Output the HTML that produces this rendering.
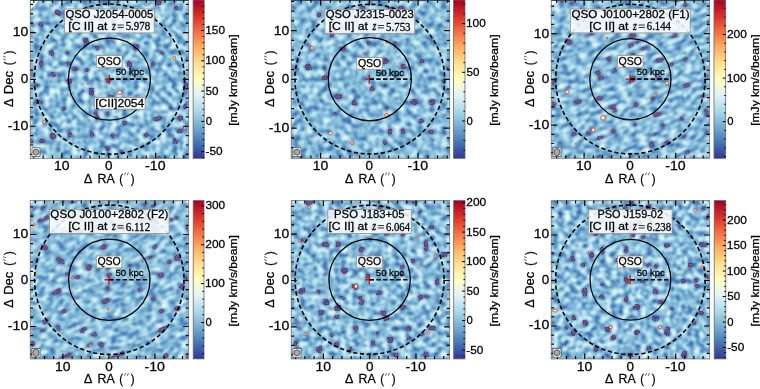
<!DOCTYPE html><html><head><meta charset="utf-8"><style>html,body{margin:0;padding:0;background:#fff;}svg{display:block;}text{font-family:"Liberation Sans",sans-serif;fill:#000;stroke:#000;stroke-width:0.28px;}.sr{font-family:"Liberation Serif",serif;}.si{font-family:"Liberation Serif",serif;font-style:italic;}</style></head><body>
<svg width="760" height="389" viewBox="0 0 760 389" style="will-change:transform">
<defs>
<linearGradient id="cmap" x1="0" y1="1" x2="0" y2="0">
<stop offset="0" stop-color="#313695"/>
<stop offset="0.1" stop-color="#4575b4"/>
<stop offset="0.2" stop-color="#74add1"/>
<stop offset="0.3" stop-color="#abd9e9"/>
<stop offset="0.4" stop-color="#e0f3f8"/>
<stop offset="0.5" stop-color="#ffffbf"/>
<stop offset="0.6" stop-color="#fee090"/>
<stop offset="0.7" stop-color="#fdae61"/>
<stop offset="0.8" stop-color="#f46d43"/>
<stop offset="0.9" stop-color="#d73027"/>
<stop offset="1" stop-color="#a50026"/>
</linearGradient>
<filter id="nz0" x="0" y="0" width="1" height="1" color-interpolation-filters="sRGB">
<feTurbulence type="fractalNoise" baseFrequency="0.18 0.18" numOctaves="2" seed="3" result="t0"/><feGaussianBlur in="t0" stdDeviation="0.8" result="t"/>
<feColorMatrix in="t" type="matrix" values="1 0 0 0 0 1 0 0 0 0 1 0 0 0 0 0 0 0 0 1" result="g"/>
<feComponentTransfer in="g" result="col"><feFuncR type="table" tableValues="0.192 0.192 0.192 0.192 0.192 0.192 0.192 0.192 0.195 0.211 0.226 0.241 0.256 0.271 0.306 0.342 0.377 0.412 0.447 0.487 0.529 0.570 0.611 0.653 0.693 0.733 0.773 0.812 0.852 0.886 0.909 0.933 0.956 0.979 1.000 0.999 0.998 0.998 0.997 0.996 0.995"/><feFuncG type="table" tableValues="0.212 0.212 0.212 0.212 0.212 0.212 0.212 0.212 0.223 0.270 0.317 0.365 0.412 0.459 0.501 0.543 0.585 0.627 0.669 0.704 0.737 0.770 0.803 0.836 0.862 0.881 0.901 0.921 0.940 0.956 0.965 0.974 0.983 0.992 0.997 0.974 0.951 0.927 0.904 0.880 0.844"/><feFuncB type="table" tableValues="0.584 0.584 0.584 0.584 0.584 0.584 0.584 0.584 0.589 0.613 0.636 0.659 0.683 0.706 0.728 0.750 0.772 0.793 0.815 0.834 0.852 0.870 0.888 0.906 0.920 0.932 0.943 0.954 0.966 0.958 0.916 0.873 0.830 0.787 0.745 0.710 0.674 0.639 0.604 0.569 0.533"/></feComponentTransfer>
<feColorMatrix in="t" type="matrix" values="0 0 0 0 0 0 0 0 0 0 0 0 0 0 0 1 0 0 0 0" result="a"/>
<feComponentTransfer in="a" result="mn"><feFuncA type="discrete" tableValues="1 1 1 1 1 1 1 1 1 1 1 1 1 1 1 1 1 1 1 1 1 1 1 1 1 1 1 1 1 1 1 1 1 1 1 1 1 1 1 1 1 1 1 1 1 1 1 1 1 1 1 1 1 1 1 1 1 1 1 1 1 1 1 1 1 1 1 1 1 1 1 1 1 1 1 1 1 1 1 1 1 0 0 0 0 0 0 0 0 0 0 0 0 0 0 0 0 0 0 0 0 0 0 0 0 0 0 0 0 0 0 0 0 0 0 0 0 0 0 0 0 0 0 0 0 0 0 0 0 0 0 0 0 0 0 0 0 0 0 0 0 0 0 0 0 0 0 0 0 0 0 0 0 0 0 0 0 0 0 0 0 0 0 0 0 0 0 0 0 0 0 0 0 0 0 0 0 0 0 0 0 0 0 0 0 0 0 0 0 0 0 0 0 0 0 0 0 0 0 0 0 0 0 0 0 0 0 0 0 0 0 0 0 0 0 0 0 0 0 0 0 0 0 0 0 0 0 0 0 0 0 0 0 0 0 0 0 0 0 0 0 0 0 0 0 0 0 0 0 0 0 0 0 0 0"/></feComponentTransfer>
<feGaussianBlur in="mn" stdDeviation="0.9" result="bn"/><feComponentTransfer in="bn" result="dn"><feFuncA type="discrete" tableValues="0 0 1 1 1 1 1 1 1 1 1 1 1 1 1 1 1 1 1 1"/></feComponentTransfer>
<feComposite in="dn" in2="mn" operator="out" result="rn0"/>
<feTurbulence type="fractalNoise" baseFrequency="0.6" numOctaves="1" seed="103" result="hf"/><feColorMatrix in="hf" type="matrix" values="0 0 0 0 0 0 0 0 0 0 0 0 0 0 0 1 0 0 0 0" result="hfa"/><feComponentTransfer in="hfa" result="dots"><feFuncA type="discrete" tableValues="0 0 0 0 1 1 1 1 1 1"/></feComponentTransfer>
<feComposite in="rn0" in2="dots" operator="in" result="rn"/>
<feFlood flood-color="#9a1c3a" flood-opacity="0.8"/><feComposite in2="rn" operator="in" result="rnc"/>
<feMerge><feMergeNode in="col"/><feMergeNode in="rnc"/></feMerge>
</filter>
<filter id="nz1" x="0" y="0" width="1" height="1" color-interpolation-filters="sRGB">
<feTurbulence type="fractalNoise" baseFrequency="0.17 0.17" numOctaves="2" seed="7" result="t0"/><feGaussianBlur in="t0" stdDeviation="0.8" result="t"/>
<feColorMatrix in="t" type="matrix" values="1 0 0 0 0 1 0 0 0 0 1 0 0 0 0 0 0 0 0 1" result="g"/>
<feComponentTransfer in="g" result="col"><feFuncR type="table" tableValues="0.192 0.192 0.192 0.192 0.192 0.192 0.192 0.197 0.211 0.224 0.238 0.252 0.266 0.291 0.324 0.356 0.388 0.420 0.452 0.490 0.528 0.565 0.603 0.641 0.679 0.715 0.751 0.787 0.823 0.860 0.889 0.910 0.931 0.953 0.974 0.995 0.999 0.999 0.998 0.997 0.997"/><feFuncG type="table" tableValues="0.212 0.212 0.212 0.212 0.212 0.212 0.212 0.227 0.270 0.314 0.357 0.400 0.443 0.483 0.522 0.560 0.598 0.637 0.675 0.706 0.736 0.766 0.797 0.827 0.855 0.873 0.890 0.908 0.926 0.944 0.957 0.965 0.974 0.982 0.990 0.998 0.983 0.962 0.941 0.919 0.898"/><feFuncB type="table" tableValues="0.584 0.584 0.584 0.584 0.584 0.584 0.584 0.591 0.613 0.634 0.656 0.677 0.698 0.719 0.739 0.759 0.779 0.798 0.818 0.835 0.852 0.868 0.885 0.901 0.916 0.926 0.937 0.947 0.957 0.968 0.954 0.914 0.875 0.836 0.797 0.758 0.724 0.692 0.659 0.627 0.595"/></feComponentTransfer>
<feColorMatrix in="t" type="matrix" values="0 0 0 0 0 0 0 0 0 0 0 0 0 0 0 1 0 0 0 0" result="a"/>
<feComponentTransfer in="a" result="mn"><feFuncA type="discrete" tableValues="1 1 1 1 1 1 1 1 1 1 1 1 1 1 1 1 1 1 1 1 1 1 1 1 1 1 1 1 1 1 1 1 1 1 1 1 1 1 1 1 1 1 1 1 1 1 1 1 1 1 1 1 1 1 1 1 1 1 1 1 1 1 1 1 1 1 1 1 1 1 1 1 1 1 1 1 1 0 0 0 0 0 0 0 0 0 0 0 0 0 0 0 0 0 0 0 0 0 0 0 0 0 0 0 0 0 0 0 0 0 0 0 0 0 0 0 0 0 0 0 0 0 0 0 0 0 0 0 0 0 0 0 0 0 0 0 0 0 0 0 0 0 0 0 0 0 0 0 0 0 0 0 0 0 0 0 0 0 0 0 0 0 0 0 0 0 0 0 0 0 0 0 0 0 0 0 0 0 0 0 0 0 0 0 0 0 0 0 0 0 0 0 0 0 0 0 0 0 0 0 0 0 0 0 0 0 0 0 0 0 0 0 0 0 0 0 0 0 0 0 0 0 0 0 0 0 0 0 0 0 0 0 0 0 0 0 0 0 0 0 0 0 0 0 0 0 0 0 0 0 0 0 0 0 0"/></feComponentTransfer>
<feGaussianBlur in="mn" stdDeviation="0.9" result="bn"/><feComponentTransfer in="bn" result="dn"><feFuncA type="discrete" tableValues="0 0 1 1 1 1 1 1 1 1 1 1 1 1 1 1 1 1 1 1"/></feComponentTransfer>
<feComposite in="dn" in2="mn" operator="out" result="rn0"/>
<feTurbulence type="fractalNoise" baseFrequency="0.6" numOctaves="1" seed="107" result="hf"/><feColorMatrix in="hf" type="matrix" values="0 0 0 0 0 0 0 0 0 0 0 0 0 0 0 1 0 0 0 0" result="hfa"/><feComponentTransfer in="hfa" result="dots"><feFuncA type="discrete" tableValues="0 0 0 0 1 1 1 1 1 1"/></feComponentTransfer>
<feComposite in="rn0" in2="dots" operator="in" result="rn"/>
<feFlood flood-color="#9a1c3a" flood-opacity="0.8"/><feComposite in2="rn" operator="in" result="rnc"/>
<feMerge><feMergeNode in="col"/><feMergeNode in="rnc"/></feMerge>
</filter>
<filter id="nz2" x="0" y="0" width="1" height="1" color-interpolation-filters="sRGB">
<feTurbulence type="fractalNoise" baseFrequency="0.13 0.24" numOctaves="2" seed="11" result="t0"/><feGaussianBlur in="t0" stdDeviation="0.8" result="t"/>
<feColorMatrix in="t" type="matrix" values="1 0 0 0 0 1 0 0 0 0 1 0 0 0 0 0 0 0 0 1" result="g"/>
<feComponentTransfer in="g" result="col"><feFuncR type="table" tableValues="0.192 0.192 0.192 0.192 0.192 0.192 0.192 0.192 0.203 0.218 0.232 0.246 0.261 0.281 0.315 0.349 0.383 0.416 0.450 0.489 0.529 0.568 0.608 0.647 0.686 0.724 0.762 0.800 0.838 0.876 0.899 0.922 0.944 0.966 0.989 1.000 0.999 0.998 0.997 0.997 0.996"/><feFuncG type="table" tableValues="0.212 0.212 0.212 0.212 0.212 0.212 0.212 0.212 0.246 0.292 0.337 0.382 0.428 0.471 0.512 0.552 0.592 0.632 0.672 0.705 0.737 0.769 0.800 0.832 0.859 0.877 0.896 0.915 0.933 0.952 0.961 0.970 0.978 0.987 0.996 0.989 0.966 0.944 0.922 0.899 0.876"/><feFuncB type="table" tableValues="0.584 0.584 0.584 0.584 0.584 0.584 0.584 0.584 0.601 0.623 0.646 0.668 0.691 0.712 0.733 0.754 0.775 0.796 0.817 0.835 0.852 0.869 0.886 0.904 0.918 0.929 0.940 0.951 0.962 0.972 0.934 0.893 0.852 0.811 0.770 0.732 0.698 0.665 0.631 0.597 0.563"/></feComponentTransfer>
<feColorMatrix in="t" type="matrix" values="0 0 0 0 0 0 0 0 0 0 0 0 0 0 0 1 0 0 0 0" result="a"/>
<feComponentTransfer in="a" result="mn"><feFuncA type="discrete" tableValues="1 1 1 1 1 1 1 1 1 1 1 1 1 1 1 1 1 1 1 1 1 1 1 1 1 1 1 1 1 1 1 1 1 1 1 1 1 1 1 1 1 1 1 1 1 1 1 1 1 1 1 1 1 1 1 1 1 1 1 1 1 1 1 1 1 1 1 1 1 1 1 1 1 1 1 1 1 1 1 1 1 0 0 0 0 0 0 0 0 0 0 0 0 0 0 0 0 0 0 0 0 0 0 0 0 0 0 0 0 0 0 0 0 0 0 0 0 0 0 0 0 0 0 0 0 0 0 0 0 0 0 0 0 0 0 0 0 0 0 0 0 0 0 0 0 0 0 0 0 0 0 0 0 0 0 0 0 0 0 0 0 0 0 0 0 0 0 0 0 0 0 0 0 0 0 0 0 0 0 0 0 0 0 0 0 0 0 0 0 0 0 0 0 0 0 0 0 0 0 0 0 0 0 0 0 0 0 0 0 0 0 0 0 0 0 0 0 0 0 0 0 0 0 0 0 0 0 0 0 0 0 0 0 0 0 0 0 0 0 0 0 0 0 0 0 0 0 0 0 0 0 0 0 0 0"/></feComponentTransfer>
<feGaussianBlur in="mn" stdDeviation="0.9" result="bn"/><feComponentTransfer in="bn" result="dn"><feFuncA type="discrete" tableValues="0 0 1 1 1 1 1 1 1 1 1 1 1 1 1 1 1 1 1 1"/></feComponentTransfer>
<feComposite in="dn" in2="mn" operator="out" result="rn0"/>
<feTurbulence type="fractalNoise" baseFrequency="0.6" numOctaves="1" seed="111" result="hf"/><feColorMatrix in="hf" type="matrix" values="0 0 0 0 0 0 0 0 0 0 0 0 0 0 0 1 0 0 0 0" result="hfa"/><feComponentTransfer in="hfa" result="dots"><feFuncA type="discrete" tableValues="0 0 0 0 1 1 1 1 1 1"/></feComponentTransfer>
<feComposite in="rn0" in2="dots" operator="in" result="rn"/>
<feFlood flood-color="#9a1c3a" flood-opacity="0.8"/><feComposite in2="rn" operator="in" result="rnc"/>
<feMerge><feMergeNode in="col"/><feMergeNode in="rnc"/></feMerge>
</filter>
<filter id="nz3" x="0" y="0" width="1" height="1" color-interpolation-filters="sRGB">
<feTurbulence type="fractalNoise" baseFrequency="0.13 0.24" numOctaves="2" seed="19" result="t0"/><feGaussianBlur in="t0" stdDeviation="0.8" result="t"/>
<feColorMatrix in="t" type="matrix" values="1 0 0 0 0 1 0 0 0 0 1 0 0 0 0 0 0 0 0 1" result="g"/>
<feComponentTransfer in="g" result="col"><feFuncR type="table" tableValues="0.192 0.192 0.192 0.192 0.192 0.192 0.192 0.192 0.197 0.212 0.227 0.242 0.257 0.273 0.308 0.343 0.379 0.414 0.449 0.489 0.530 0.571 0.612 0.654 0.694 0.733 0.773 0.812 0.852 0.886 0.909 0.932 0.956 0.979 1.000 0.999 0.998 0.998 0.997 0.996 0.995"/><feFuncG type="table" tableValues="0.212 0.212 0.212 0.212 0.212 0.212 0.212 0.212 0.227 0.274 0.321 0.368 0.415 0.462 0.503 0.545 0.587 0.629 0.671 0.705 0.738 0.771 0.804 0.837 0.862 0.882 0.901 0.921 0.940 0.956 0.965 0.974 0.983 0.992 0.998 0.975 0.951 0.928 0.905 0.882 0.846"/><feFuncB type="table" tableValues="0.584 0.584 0.584 0.584 0.584 0.584 0.584 0.584 0.591 0.614 0.638 0.661 0.684 0.707 0.729 0.751 0.773 0.794 0.816 0.835 0.853 0.871 0.889 0.906 0.920 0.932 0.943 0.954 0.966 0.959 0.916 0.873 0.831 0.788 0.746 0.711 0.676 0.641 0.605 0.570 0.535"/></feComponentTransfer>
<feColorMatrix in="t" type="matrix" values="0 0 0 0 0 0 0 0 0 0 0 0 0 0 0 1 0 0 0 0" result="a"/>
<feComponentTransfer in="a" result="mn"><feFuncA type="discrete" tableValues="1 1 1 1 1 1 1 1 1 1 1 1 1 1 1 1 1 1 1 1 1 1 1 1 1 1 1 1 1 1 1 1 1 1 1 1 1 1 1 1 1 1 1 1 1 1 1 1 1 1 1 1 1 1 1 1 1 1 1 1 1 1 1 1 1 1 1 1 1 1 1 1 1 1 1 1 1 1 1 1 1 1 1 0 0 0 0 0 0 0 0 0 0 0 0 0 0 0 0 0 0 0 0 0 0 0 0 0 0 0 0 0 0 0 0 0 0 0 0 0 0 0 0 0 0 0 0 0 0 0 0 0 0 0 0 0 0 0 0 0 0 0 0 0 0 0 0 0 0 0 0 0 0 0 0 0 0 0 0 0 0 0 0 0 0 0 0 0 0 0 0 0 0 0 0 0 0 0 0 0 0 0 0 0 0 0 0 0 0 0 0 0 0 0 0 0 0 0 0 0 0 0 0 0 0 0 0 0 0 0 0 0 0 0 0 0 0 0 0 0 0 0 0 0 0 0 0 0 0 0 0 0 0 0 0 0 0 0 0 0 0 0 0 0 0 0 0 0 0 0 0 0 0 0 0"/></feComponentTransfer>
<feGaussianBlur in="mn" stdDeviation="0.9" result="bn"/><feComponentTransfer in="bn" result="dn"><feFuncA type="discrete" tableValues="0 0 1 1 1 1 1 1 1 1 1 1 1 1 1 1 1 1 1 1"/></feComponentTransfer>
<feComposite in="dn" in2="mn" operator="out" result="rn0"/>
<feTurbulence type="fractalNoise" baseFrequency="0.6" numOctaves="1" seed="119" result="hf"/><feColorMatrix in="hf" type="matrix" values="0 0 0 0 0 0 0 0 0 0 0 0 0 0 0 1 0 0 0 0" result="hfa"/><feComponentTransfer in="hfa" result="dots"><feFuncA type="discrete" tableValues="0 0 0 0 1 1 1 1 1 1"/></feComponentTransfer>
<feComposite in="rn0" in2="dots" operator="in" result="rn"/>
<feFlood flood-color="#9a1c3a" flood-opacity="0.8"/><feComposite in2="rn" operator="in" result="rnc"/>
<feMerge><feMergeNode in="col"/><feMergeNode in="rnc"/></feMerge>
</filter>
<filter id="nz4" x="0" y="0" width="1" height="1" color-interpolation-filters="sRGB">
<feTurbulence type="fractalNoise" baseFrequency="0.17 0.19" numOctaves="2" seed="23" result="t0"/><feGaussianBlur in="t0" stdDeviation="0.8" result="t"/>
<feColorMatrix in="t" type="matrix" values="1 0 0 0 0 1 0 0 0 0 1 0 0 0 0 0 0 0 0 1" result="g"/>
<feComponentTransfer in="g" result="col"><feFuncR type="table" tableValues="0.192 0.192 0.192 0.192 0.192 0.192 0.192 0.192 0.202 0.217 0.231 0.246 0.260 0.280 0.313 0.347 0.381 0.415 0.449 0.487 0.527 0.566 0.606 0.646 0.685 0.723 0.761 0.799 0.837 0.875 0.899 0.921 0.943 0.966 0.988 1.000 0.999 0.998 0.997 0.997 0.996"/><feFuncG type="table" tableValues="0.212 0.212 0.212 0.212 0.212 0.212 0.212 0.212 0.244 0.289 0.335 0.380 0.425 0.469 0.509 0.550 0.590 0.630 0.670 0.704 0.735 0.767 0.799 0.831 0.858 0.877 0.895 0.914 0.933 0.951 0.961 0.970 0.978 0.987 0.995 0.989 0.967 0.945 0.922 0.900 0.877"/><feFuncB type="table" tableValues="0.584 0.584 0.584 0.584 0.584 0.584 0.584 0.584 0.600 0.622 0.645 0.667 0.689 0.711 0.732 0.753 0.774 0.795 0.816 0.834 0.851 0.868 0.886 0.903 0.918 0.929 0.940 0.950 0.961 0.972 0.935 0.894 0.853 0.812 0.771 0.733 0.699 0.666 0.632 0.598 0.564"/></feComponentTransfer>
<feColorMatrix in="t" type="matrix" values="0 0 0 0 0 0 0 0 0 0 0 0 0 0 0 1 0 0 0 0" result="a"/>
<feComponentTransfer in="a" result="mn"><feFuncA type="discrete" tableValues="1 1 1 1 1 1 1 1 1 1 1 1 1 1 1 1 1 1 1 1 1 1 1 1 1 1 1 1 1 1 1 1 1 1 1 1 1 1 1 1 1 1 1 1 1 1 1 1 1 1 1 1 1 1 1 1 1 1 1 1 1 1 1 1 1 1 1 1 1 1 1 1 1 1 1 1 1 1 1 1 0 0 0 0 0 0 0 0 0 0 0 0 0 0 0 0 0 0 0 0 0 0 0 0 0 0 0 0 0 0 0 0 0 0 0 0 0 0 0 0 0 0 0 0 0 0 0 0 0 0 0 0 0 0 0 0 0 0 0 0 0 0 0 0 0 0 0 0 0 0 0 0 0 0 0 0 0 0 0 0 0 0 0 0 0 0 0 0 0 0 0 0 0 0 0 0 0 0 0 0 0 0 0 0 0 0 0 0 0 0 0 0 0 0 0 0 0 0 0 0 0 0 0 0 0 0 0 0 0 0 0 0 0 0 0 0 0 0 0 0 0 0 0 0 0 0 0 0 0 0 0 0 0 0 0 0 0 0 0 0 0 0 0 0 0 0 0 0 0 0 0 0 0 0 0"/></feComponentTransfer>
<feGaussianBlur in="mn" stdDeviation="0.9" result="bn"/><feComponentTransfer in="bn" result="dn"><feFuncA type="discrete" tableValues="0 0 1 1 1 1 1 1 1 1 1 1 1 1 1 1 1 1 1 1"/></feComponentTransfer>
<feComposite in="dn" in2="mn" operator="out" result="rn0"/>
<feTurbulence type="fractalNoise" baseFrequency="0.6" numOctaves="1" seed="123" result="hf"/><feColorMatrix in="hf" type="matrix" values="0 0 0 0 0 0 0 0 0 0 0 0 0 0 0 1 0 0 0 0" result="hfa"/><feComponentTransfer in="hfa" result="dots"><feFuncA type="discrete" tableValues="0 0 0 0 1 1 1 1 1 1"/></feComponentTransfer>
<feComposite in="rn0" in2="dots" operator="in" result="rn"/>
<feFlood flood-color="#9a1c3a" flood-opacity="0.8"/><feComposite in2="rn" operator="in" result="rnc"/>
<feMerge><feMergeNode in="col"/><feMergeNode in="rnc"/></feMerge>
</filter>
<filter id="nz5" x="0" y="0" width="1" height="1" color-interpolation-filters="sRGB">
<feTurbulence type="fractalNoise" baseFrequency="0.17 0.19" numOctaves="2" seed="29" result="t0"/><feGaussianBlur in="t0" stdDeviation="0.8" result="t"/>
<feColorMatrix in="t" type="matrix" values="1 0 0 0 0 1 0 0 0 0 1 0 0 0 0 0 0 0 0 1" result="g"/>
<feComponentTransfer in="g" result="col"><feFuncR type="table" tableValues="0.192 0.192 0.192 0.192 0.192 0.192 0.192 0.192 0.192 0.203 0.219 0.235 0.251 0.267 0.298 0.335 0.372 0.409 0.446 0.488 0.531 0.574 0.618 0.661 0.703 0.744 0.786 0.828 0.869 0.897 0.922 0.946 0.971 0.995 0.999 0.999 0.998 0.997 0.996 0.995 0.995"/><feFuncG type="table" tableValues="0.212 0.212 0.212 0.212 0.212 0.212 0.212 0.212 0.212 0.248 0.297 0.347 0.396 0.446 0.491 0.535 0.579 0.623 0.667 0.704 0.739 0.774 0.808 0.843 0.867 0.887 0.908 0.928 0.949 0.960 0.970 0.979 0.989 0.998 0.980 0.956 0.931 0.907 0.883 0.846 0.807"/><feFuncB type="table" tableValues="0.584 0.584 0.584 0.584 0.584 0.584 0.584 0.584 0.584 0.602 0.626 0.651 0.675 0.700 0.723 0.746 0.769 0.791 0.814 0.834 0.853 0.872 0.891 0.910 0.923 0.935 0.947 0.959 0.970 0.938 0.893 0.848 0.803 0.758 0.719 0.683 0.646 0.609 0.572 0.535 0.498"/></feComponentTransfer>
<feColorMatrix in="t" type="matrix" values="0 0 0 0 0 0 0 0 0 0 0 0 0 0 0 1 0 0 0 0" result="a"/>
<feComponentTransfer in="a" result="mn"><feFuncA type="discrete" tableValues="1 1 1 1 1 1 1 1 1 1 1 1 1 1 1 1 1 1 1 1 1 1 1 1 1 1 1 1 1 1 1 1 1 1 1 1 1 1 1 1 1 1 1 1 1 1 1 1 1 1 1 1 1 1 1 1 1 1 1 1 1 1 1 1 1 1 1 1 1 1 1 1 1 1 1 1 1 1 1 1 1 1 0 0 0 0 0 0 0 0 0 0 0 0 0 0 0 0 0 0 0 0 0 0 0 0 0 0 0 0 0 0 0 0 0 0 0 0 0 0 0 0 0 0 0 0 0 0 0 0 0 0 0 0 0 0 0 0 0 0 0 0 0 0 0 0 0 0 0 0 0 0 0 0 0 0 0 0 0 0 0 0 0 0 0 0 0 0 0 0 0 0 0 0 0 0 0 0 0 0 0 0 0 0 0 0 0 0 0 0 0 0 0 0 0 0 0 0 0 0 0 0 0 0 0 0 0 0 0 0 0 0 0 0 0 0 0 0 0 0 0 0 0 0 0 0 0 0 0 0 0 0 0 0 0 0 0 0 0 0 0 0 0 0 0 0 0 0 0 0 0 0 0 0 0"/></feComponentTransfer>
<feGaussianBlur in="mn" stdDeviation="0.9" result="bn"/><feComponentTransfer in="bn" result="dn"><feFuncA type="discrete" tableValues="0 0 1 1 1 1 1 1 1 1 1 1 1 1 1 1 1 1 1 1"/></feComponentTransfer>
<feComposite in="dn" in2="mn" operator="out" result="rn0"/>
<feTurbulence type="fractalNoise" baseFrequency="0.6" numOctaves="1" seed="129" result="hf"/><feColorMatrix in="hf" type="matrix" values="0 0 0 0 0 0 0 0 0 0 0 0 0 0 0 1 0 0 0 0" result="hfa"/><feComponentTransfer in="hfa" result="dots"><feFuncA type="discrete" tableValues="0 0 0 0 1 1 1 1 1 1"/></feComponentTransfer>
<feComposite in="rn0" in2="dots" operator="in" result="rn"/>
<feFlood flood-color="#9a1c3a" flood-opacity="0.8"/><feComposite in2="rn" operator="in" result="rnc"/>
<feMerge><feMergeNode in="col"/><feMergeNode in="rnc"/></feMerge>
</filter>
</defs>
<g>
<rect x="30.3" y="0" width="158.3" height="158.3" filter="url(#nz0)" fill="#9cc"/>
<path d="M30.3 0L39.3 0L30.3 10Z" fill="#fff"/>
<path d="M30.3 158.3L43.3 158.3L30.3 145.3Z" fill="#fff"/>
<ellipse cx="119.6" cy="92.5" rx="2.2" ry="2" fill="#fdf3c4" stroke="#d0442c" stroke-width="0.9"/>
<ellipse cx="174.3" cy="58.1" rx="1.4" ry="1.6" fill="#fdf3c4" stroke="#d0442c" stroke-width="0.9"/>
<ellipse cx="44.2" cy="122" rx="1.5" ry="1.4" fill="#fdf3c4" stroke="#d0442c" stroke-width="0.9"/>
<ellipse cx="184.5" cy="128" rx="1.2" ry="1.2" fill="#fdf3c4" stroke="#d0442c" stroke-width="0.9"/>
<ellipse cx="56.4" cy="74.4" rx="0.8" ry="0.8" fill="#fdf3c4" stroke="#d0442c" stroke-width="0.9"/>
<ellipse cx="88" cy="84" rx="0.8" ry="0.8" fill="#fdf3c4" stroke="#d0442c" stroke-width="0.9"/>
<circle cx="109.4" cy="79.15" r="75.1" fill="none" stroke="#000" stroke-width="1.6" stroke-dasharray="4.2 2.6"/>
<circle cx="109.4" cy="79.15" r="41" fill="none" stroke="#000" stroke-width="1.25"/>
<path d="M104.85 79.15h9M109.25 74.65v9" stroke="#c41818" stroke-width="1.4"/>
<line x1="109.55" y1="79.15" x2="150.4" y2="79.15" stroke="#000" stroke-width="1.6" stroke-dasharray="4.4 2.3"/>
<text x="115.77" y="75.4" font-size="9.06" textLength="28.17" lengthAdjust="spacingAndGlyphs">50 kpc</text>
<rect x="96.4" y="55.4" width="25.6" height="11.9" fill="#fff" stroke="#999" stroke-width="0.9"/>
<text x="97.52" y="64.8" font-size="11.34" textLength="23.39" lengthAdjust="spacingAndGlyphs">QSO</text>
<rect x="94.6" y="97.55" width="50.6" height="11.6" fill="#fff" stroke="#999" stroke-width="0.9"/>
<text x="95.24" y="106.7" font-size="11.34" textLength="49.08" lengthAdjust="spacingAndGlyphs">[CII]2054</text>
<rect x="64.5" y="9" width="89.79" height="23.9" fill="#fff" fill-opacity="0.85" stroke="#999" stroke-width="0.9"/>
<text x="65.4" y="17.8" font-size="11.34" textLength="87.98" lengthAdjust="spacingAndGlyphs">QSO J2054-0005</text>
<text x="68.25" y="29.8" font-size="11.3" textLength="39.25" lengthAdjust="spacingAndGlyphs">[C II] at</text>
<text x="112.1" y="29.8" font-size="11.5" textLength="3.84" lengthAdjust="spacingAndGlyphs" class="si">z</text>
<path d="M117.6 25h6.2M117.6 27.4h6.2" stroke="#000" stroke-width="0.8"/>
<text x="125.65" y="30.1" font-size="11.6" textLength="24.49" lengthAdjust="spacingAndGlyphs" class="sr">5.978</text>
<rect x="30.3" y="0" width="158.3" height="158.3" fill="none" stroke="#888" stroke-width="1"/>
<path d="M30.3 0.5H188.6" stroke="#3c4c5c" stroke-width="1"/>
<path d="M183.71 158.3v-2.8M183.71 0v2.8M30.3 154.36h2.8M188.6 154.36h-2.8M174.34 158.3v-2.8M174.34 0v2.8M30.3 144.99h2.8M188.6 144.99h-2.8M164.97 158.3v-2.8M164.97 0v2.8M30.3 135.62h2.8M188.6 135.62h-2.8M155.6 158.3v-5.5M155.6 0v5.5M30.3 126.25h5.5M188.6 126.25h-5.5M146.23 158.3v-2.8M146.23 0v2.8M30.3 116.88h2.8M188.6 116.88h-2.8M136.86 158.3v-2.8M136.86 0v2.8M30.3 107.51h2.8M188.6 107.51h-2.8M127.49 158.3v-2.8M127.49 0v2.8M30.3 98.14h2.8M188.6 98.14h-2.8M118.12 158.3v-2.8M118.12 0v2.8M30.3 88.77h2.8M188.6 88.77h-2.8M108.75 158.3v-5.5M108.75 0v5.5M30.3 79.4h5.5M188.6 79.4h-5.5M99.38 158.3v-2.8M99.38 0v2.8M30.3 70.03h2.8M188.6 70.03h-2.8M90.01 158.3v-2.8M90.01 0v2.8M30.3 60.66h2.8M188.6 60.66h-2.8M80.64 158.3v-2.8M80.64 0v2.8M30.3 51.29h2.8M188.6 51.29h-2.8M71.27 158.3v-2.8M71.27 0v2.8M30.3 41.92h2.8M188.6 41.92h-2.8M61.9 158.3v-5.5M61.9 0v5.5M30.3 32.55h5.5M188.6 32.55h-5.5M52.53 158.3v-2.8M52.53 0v2.8M30.3 23.18h2.8M188.6 23.18h-2.8M43.16 158.3v-2.8M43.16 0v2.8M30.3 13.81h2.8M188.6 13.81h-2.8M33.79 158.3v-2.8M33.79 0v2.8M30.3 4.44h2.8M188.6 4.44h-2.8" stroke="#000" stroke-width="1.2"/>
<text x="53.9" y="170.1" font-size="13.46" textLength="15.55" lengthAdjust="spacingAndGlyphs">10</text>
<text x="12.75" y="36.45" font-size="13.46" textLength="15.55" lengthAdjust="spacingAndGlyphs">10</text>
<text x="105" y="170.1" font-size="13.46" textLength="7.51" lengthAdjust="spacingAndGlyphs">0</text>
<text x="20.75" y="83.3" font-size="13.46" textLength="7.51" lengthAdjust="spacingAndGlyphs">0</text>
<text x="145.14" y="170.1" font-size="13.46" textLength="20.45" lengthAdjust="spacingAndGlyphs">-10</text>
<text x="7.82" y="130.15" font-size="13.46" textLength="20.45" lengthAdjust="spacingAndGlyphs">-10</text>
<text x="84.08" y="182.8" font-size="12.8" textLength="8.32" lengthAdjust="spacingAndGlyphs">Δ</text>
<text x="97.56" y="182.8" font-size="12.8" textLength="17.14" lengthAdjust="spacingAndGlyphs">RA</text>
<text x="119.22" y="182.8" font-size="12.8" textLength="3.77" lengthAdjust="spacingAndGlyphs">(</text><text x="130.68" y="182.8" font-size="12.8" textLength="3.84" lengthAdjust="spacingAndGlyphs">)</text>
<path d="M124.55 175.2l1 -2.8M127.35 175.2l1 -2.8" stroke="#555" stroke-width="0.9"/>
<g transform="translate(13.4 79.4) rotate(-90)"><text x="-27.68" y="0" font-size="12.8" textLength="8.43" lengthAdjust="spacingAndGlyphs">Δ</text><text x="-14.84" y="0" font-size="12.8" textLength="23.15" lengthAdjust="spacingAndGlyphs">Dec</text><text x="14.24" y="0" font-size="12.8" textLength="3.64" lengthAdjust="spacingAndGlyphs">(</text><text x="25.09" y="0" font-size="12.8" textLength="3.71" lengthAdjust="spacingAndGlyphs">)</text><path d="M19.5 -7.6l1 -2.8M22.3 -7.6l1 -2.8" stroke="#555" stroke-width="0.9"/></g>
<rect x="193.1" y="0" width="11.1" height="158.3" fill="url(#cmap)" stroke="#666" stroke-width="0.8"/>
<path d="M204.2 157.76h-1.6M204.2 151.7h-3M204.2 145.64h-1.6M204.2 139.58h-1.6M204.2 133.52h-1.6M204.2 127.46h-1.6M204.2 121.4h-3M204.2 115.34h-1.6M204.2 109.28h-1.6M204.2 103.22h-1.6M204.2 97.16h-1.6M204.2 91.1h-3M204.2 85.04h-1.6M204.2 78.98h-1.6M204.2 72.92h-1.6M204.2 66.86h-1.6M204.2 60.8h-3M204.2 54.74h-1.6M204.2 48.68h-1.6M204.2 42.62h-1.6M204.2 36.56h-1.6M204.2 30.5h-3M204.2 24.44h-1.6M204.2 18.38h-1.6M204.2 12.32h-1.6M204.2 6.26h-1.6" stroke="#000" stroke-width="1"/>
<text x="205.57" y="155.3" font-size="11.24" textLength="17.07" lengthAdjust="spacingAndGlyphs">-50</text>
<text x="205.65" y="125" font-size="11.24" textLength="6.27" lengthAdjust="spacingAndGlyphs">0</text>
<text x="205.63" y="94.7" font-size="11.24" textLength="12.94" lengthAdjust="spacingAndGlyphs">50</text>
<text x="205.21" y="64.4" font-size="11.24" textLength="19.8" lengthAdjust="spacingAndGlyphs">100</text>
<text x="205.21" y="34.1" font-size="11.24" textLength="19.8" lengthAdjust="spacingAndGlyphs">150</text>
<g transform="translate(237.1 80.2) rotate(-90)"><text x="-45.65" y="0" font-size="11.34" textLength="91.33" lengthAdjust="spacingAndGlyphs">[mJy km/s/beam]</text></g>
<rect x="32" y="147.8" width="8" height="8.8" fill="#fff" stroke="#555" stroke-width="0.8"/>
<ellipse cx="36" cy="152.2" rx="3" ry="3" fill="#aaa" stroke="#444" stroke-width="0.8"/>
</g>
<g>
<rect x="291.3" y="0" width="158.3" height="158.3" filter="url(#nz1)" fill="#9cc"/>
<ellipse cx="312.1" cy="48" rx="1.8" ry="1.5" fill="#fdf3c4" stroke="#d0442c" stroke-width="0.9"/>
<ellipse cx="387.3" cy="41.9" rx="1.8" ry="1.4" fill="#fdf3c4" stroke="#d0442c" stroke-width="0.9"/>
<ellipse cx="386.5" cy="115" rx="1.9" ry="1.4" fill="#fdf3c4" stroke="#d0442c" stroke-width="0.9"/>
<ellipse cx="330.4" cy="133.3" rx="2" ry="1.5" fill="#fdf3c4" stroke="#d0442c" stroke-width="0.9"/>
<ellipse cx="352" cy="143" rx="1.8" ry="1.3" fill="#fdf3c4" stroke="#d0442c" stroke-width="0.9"/>
<ellipse cx="365" cy="53.7" rx="0.8" ry="0.8" fill="#fdf3c4" stroke="#d0442c" stroke-width="0.9"/>
<circle cx="369.8" cy="79.15" r="74.8" fill="none" stroke="#000" stroke-width="1.6" stroke-dasharray="4.2 2.6"/>
<circle cx="369.8" cy="79.15" r="41.6" fill="none" stroke="#000" stroke-width="1.25"/>
<path d="M364.9 79.15h9M369.3 74.65v9" stroke="#c41818" stroke-width="1.4"/>
<line x1="369.6" y1="79.15" x2="411.4" y2="79.15" stroke="#000" stroke-width="1.6" stroke-dasharray="4.4 2.3"/>
<text x="375.82" y="76.4" font-size="9.06" textLength="28.17" lengthAdjust="spacingAndGlyphs">50 kpc</text>
<rect x="356.8" y="57.4" width="25.6" height="11.9" fill="#fff" stroke="#999" stroke-width="0.9"/>
<text x="357.92" y="66.8" font-size="11.34" textLength="23.39" lengthAdjust="spacingAndGlyphs">QSO</text>
<rect x="324.88" y="9.5" width="89.84" height="23.9" fill="#fff" fill-opacity="0.85" stroke="#999" stroke-width="0.9"/>
<text x="325.77" y="18.3" font-size="11.34" textLength="88.1" lengthAdjust="spacingAndGlyphs">QSO J2315-0023</text>
<text x="328.65" y="30.3" font-size="11.3" textLength="39.25" lengthAdjust="spacingAndGlyphs">[C II] at</text>
<text x="372.5" y="30.3" font-size="11.5" textLength="3.84" lengthAdjust="spacingAndGlyphs" class="si">z</text>
<path d="M378 25.5h6.2M378 27.9h6.2" stroke="#000" stroke-width="0.8"/>
<text x="386.05" y="30.6" font-size="11.6" textLength="24.49" lengthAdjust="spacingAndGlyphs" class="sr">5.753</text>
<rect x="291.3" y="0" width="158.3" height="158.3" fill="none" stroke="#888" stroke-width="1"/>
<path d="M291.3 0.5H449.6" stroke="#3c4c5c" stroke-width="1"/>
<path d="M447.27 158.3v-2.8M447.27 0v2.8M437.53 158.3v-2.8M437.53 0v2.8M291.3 147.58h2.8M449.6 147.58h-2.8M427.79 158.3v-2.8M427.79 0v2.8M291.3 137.84h2.8M449.6 137.84h-2.8M418.05 158.3v-5.5M418.05 0v5.5M291.3 128.1h5.5M449.6 128.1h-5.5M408.31 158.3v-2.8M408.31 0v2.8M291.3 118.36h2.8M449.6 118.36h-2.8M398.57 158.3v-2.8M398.57 0v2.8M291.3 108.62h2.8M449.6 108.62h-2.8M388.83 158.3v-2.8M388.83 0v2.8M291.3 98.88h2.8M449.6 98.88h-2.8M379.09 158.3v-2.8M379.09 0v2.8M291.3 89.14h2.8M449.6 89.14h-2.8M369.35 158.3v-5.5M369.35 0v5.5M291.3 79.4h5.5M449.6 79.4h-5.5M359.61 158.3v-2.8M359.61 0v2.8M291.3 69.66h2.8M449.6 69.66h-2.8M349.87 158.3v-2.8M349.87 0v2.8M291.3 59.92h2.8M449.6 59.92h-2.8M340.13 158.3v-2.8M340.13 0v2.8M291.3 50.18h2.8M449.6 50.18h-2.8M330.39 158.3v-2.8M330.39 0v2.8M291.3 40.44h2.8M449.6 40.44h-2.8M320.65 158.3v-5.5M320.65 0v5.5M291.3 30.7h5.5M449.6 30.7h-5.5M310.91 158.3v-2.8M310.91 0v2.8M291.3 20.96h2.8M449.6 20.96h-2.8M301.17 158.3v-2.8M301.17 0v2.8M291.3 11.22h2.8M449.6 11.22h-2.8M291.3 1.48h2.8M449.6 1.48h-2.8" stroke="#000" stroke-width="1.2"/>
<text x="312.65" y="170.1" font-size="13.46" textLength="15.55" lengthAdjust="spacingAndGlyphs">10</text>
<text x="273.75" y="34.6" font-size="13.46" textLength="15.55" lengthAdjust="spacingAndGlyphs">10</text>
<text x="365.6" y="170.1" font-size="13.46" textLength="7.51" lengthAdjust="spacingAndGlyphs">0</text>
<text x="281.75" y="83.3" font-size="13.46" textLength="7.51" lengthAdjust="spacingAndGlyphs">0</text>
<text x="407.59" y="170.1" font-size="13.46" textLength="20.45" lengthAdjust="spacingAndGlyphs">-10</text>
<text x="268.82" y="132" font-size="13.46" textLength="20.45" lengthAdjust="spacingAndGlyphs">-10</text>
<text x="345.08" y="182.8" font-size="12.8" textLength="8.32" lengthAdjust="spacingAndGlyphs">Δ</text>
<text x="358.56" y="182.8" font-size="12.8" textLength="17.14" lengthAdjust="spacingAndGlyphs">RA</text>
<text x="380.22" y="182.8" font-size="12.8" textLength="3.77" lengthAdjust="spacingAndGlyphs">(</text><text x="391.68" y="182.8" font-size="12.8" textLength="3.84" lengthAdjust="spacingAndGlyphs">)</text>
<path d="M385.55 175.2l1 -2.8M388.35 175.2l1 -2.8" stroke="#555" stroke-width="0.9"/>
<g transform="translate(274.4 79.4) rotate(-90)"><text x="-27.68" y="0" font-size="12.8" textLength="8.43" lengthAdjust="spacingAndGlyphs">Δ</text><text x="-14.84" y="0" font-size="12.8" textLength="23.15" lengthAdjust="spacingAndGlyphs">Dec</text><text x="14.24" y="0" font-size="12.8" textLength="3.64" lengthAdjust="spacingAndGlyphs">(</text><text x="25.09" y="0" font-size="12.8" textLength="3.71" lengthAdjust="spacingAndGlyphs">)</text><path d="M19.5 -7.6l1 -2.8M22.3 -7.6l1 -2.8" stroke="#555" stroke-width="0.9"/></g>
<rect x="453.6" y="0" width="11.4" height="158.3" fill="url(#cmap)" stroke="#666" stroke-width="0.8"/>
<path d="M465 150.22h-1.6M465 140.48h-1.6M465 130.74h-1.6M465 121h-3M465 111.26h-1.6M465 101.52h-1.6M465 91.78h-1.6M465 82.04h-1.6M465 72.3h-3M465 62.56h-1.6M465 52.82h-1.6M465 43.08h-1.6M465 33.34h-1.6M465 23.6h-3M465 13.86h-1.6M465 4.12h-1.6" stroke="#000" stroke-width="1"/>
<text x="466.45" y="124.6" font-size="11.24" textLength="6.27" lengthAdjust="spacingAndGlyphs">0</text>
<text x="466.43" y="75.9" font-size="11.24" textLength="12.94" lengthAdjust="spacingAndGlyphs">50</text>
<text x="466.01" y="27.2" font-size="11.24" textLength="19.8" lengthAdjust="spacingAndGlyphs">100</text>
<g transform="translate(497.9 80.2) rotate(-90)"><text x="-45.65" y="0" font-size="11.34" textLength="91.33" lengthAdjust="spacingAndGlyphs">[mJy km/s/beam]</text></g>
<rect x="293" y="147.8" width="8" height="8.8" fill="#fff" stroke="#555" stroke-width="0.8"/>
<ellipse cx="297" cy="152.2" rx="3" ry="3" fill="#aaa" stroke="#444" stroke-width="0.8"/>
</g>
<g>
<clipPath id="cp2"><rect x="551.3" y="0" width="158.3" height="158.3"/></clipPath>
<g clip-path="url(#cp2)"><rect x="510.4" y="-40.85" width="240" height="240" transform="rotate(-22 630.4 79.15)" filter="url(#nz2)" fill="#9cc"/></g>
<path d="M551.3 0L557.3 0L551.3 7Z" fill="#fff"/>
<ellipse cx="567.3" cy="91.9" rx="1.9" ry="1.9" fill="#fdf3c4" stroke="#d0442c" stroke-width="0.9"/>
<ellipse cx="603" cy="117.9" rx="2.3" ry="2.3" fill="#fdf3c4" stroke="#d0442c" stroke-width="0.9"/>
<ellipse cx="593.3" cy="130" rx="1.9" ry="2" fill="#fdf3c4" stroke="#d0442c" stroke-width="0.9"/>
<ellipse cx="666.9" cy="83.3" rx="1.6" ry="1.8" fill="#fdf3c4" stroke="#d0442c" stroke-width="0.9"/>
<ellipse cx="656.7" cy="93.5" rx="1" ry="1.1" fill="#fdf3c4" stroke="#d0442c" stroke-width="0.9"/>
<ellipse cx="576.2" cy="143.9" rx="0.9" ry="0.9" fill="#fdf3c4" stroke="#d0442c" stroke-width="0.9"/>
<ellipse cx="607" cy="37.8" rx="0.9" ry="0.9" fill="#fdf3c4" stroke="#d0442c" stroke-width="0.9"/>
<circle cx="630.4" cy="79.15" r="74.75" fill="none" stroke="#000" stroke-width="1.6" stroke-dasharray="4.2 2.6"/>
<circle cx="630.4" cy="79.15" r="40.6" fill="none" stroke="#000" stroke-width="1.25"/>
<path d="M625.8 79.15h9M630.2 74.65v9" stroke="#c41818" stroke-width="1.4"/>
<line x1="630.5" y1="79.15" x2="671" y2="79.15" stroke="#000" stroke-width="1.6" stroke-dasharray="4.4 2.3"/>
<text x="636.72" y="75.4" font-size="9.06" textLength="28.17" lengthAdjust="spacingAndGlyphs">50 kpc</text>
<rect x="617.4" y="55.4" width="25.6" height="11.9" fill="#fff" stroke="#999" stroke-width="0.9"/>
<text x="618.52" y="64.8" font-size="11.34" textLength="23.39" lengthAdjust="spacingAndGlyphs">QSO</text>
<rect x="570.58" y="9" width="119.64" height="23.9" fill="#fff" fill-opacity="0.85" stroke="#999" stroke-width="0.9"/>
<text x="571.45" y="17.8" font-size="11.34" textLength="118.12" lengthAdjust="spacingAndGlyphs">QSO J0100+2802 (F1)</text>
<text x="589.25" y="29.8" font-size="11.3" textLength="39.25" lengthAdjust="spacingAndGlyphs">[C II] at</text>
<text x="633.1" y="29.8" font-size="11.5" textLength="3.84" lengthAdjust="spacingAndGlyphs" class="si">z</text>
<path d="M638.6 25h6.2M638.6 27.4h6.2" stroke="#000" stroke-width="0.8"/>
<text x="646.82" y="30.1" font-size="11.6" textLength="24.04" lengthAdjust="spacingAndGlyphs" class="sr">6.144</text>
<rect x="551.3" y="0" width="158.3" height="158.3" fill="none" stroke="#888" stroke-width="1"/>
<path d="M551.3 0.5H709.6" stroke="#3c4c5c" stroke-width="1"/>
<path d="M703.18 158.3v-2.8M703.18 0v2.8M551.3 152.68h2.8M709.6 152.68h-2.8M694.02 158.3v-2.8M694.02 0v2.8M551.3 143.52h2.8M709.6 143.52h-2.8M684.86 158.3v-2.8M684.86 0v2.8M551.3 134.36h2.8M709.6 134.36h-2.8M675.7 158.3v-5.5M675.7 0v5.5M551.3 125.2h5.5M709.6 125.2h-5.5M666.54 158.3v-2.8M666.54 0v2.8M551.3 116.04h2.8M709.6 116.04h-2.8M657.38 158.3v-2.8M657.38 0v2.8M551.3 106.88h2.8M709.6 106.88h-2.8M648.22 158.3v-2.8M648.22 0v2.8M551.3 97.72h2.8M709.6 97.72h-2.8M639.06 158.3v-2.8M639.06 0v2.8M551.3 88.56h2.8M709.6 88.56h-2.8M629.9 158.3v-5.5M629.9 0v5.5M551.3 79.4h5.5M709.6 79.4h-5.5M620.74 158.3v-2.8M620.74 0v2.8M551.3 70.24h2.8M709.6 70.24h-2.8M611.58 158.3v-2.8M611.58 0v2.8M551.3 61.08h2.8M709.6 61.08h-2.8M602.42 158.3v-2.8M602.42 0v2.8M551.3 51.92h2.8M709.6 51.92h-2.8M593.26 158.3v-2.8M593.26 0v2.8M551.3 42.76h2.8M709.6 42.76h-2.8M584.1 158.3v-5.5M584.1 0v5.5M551.3 33.6h5.5M709.6 33.6h-5.5M574.94 158.3v-2.8M574.94 0v2.8M551.3 24.44h2.8M709.6 24.44h-2.8M565.78 158.3v-2.8M565.78 0v2.8M551.3 15.28h2.8M709.6 15.28h-2.8M556.62 158.3v-2.8M556.62 0v2.8M551.3 6.12h2.8M709.6 6.12h-2.8" stroke="#000" stroke-width="1.2"/>
<text x="576.1" y="170.1" font-size="13.46" textLength="15.55" lengthAdjust="spacingAndGlyphs">10</text>
<text x="533.75" y="37.5" font-size="13.46" textLength="15.55" lengthAdjust="spacingAndGlyphs">10</text>
<text x="626.15" y="170.1" font-size="13.46" textLength="7.51" lengthAdjust="spacingAndGlyphs">0</text>
<text x="541.75" y="83.3" font-size="13.46" textLength="7.51" lengthAdjust="spacingAndGlyphs">0</text>
<text x="665.24" y="170.1" font-size="13.46" textLength="20.45" lengthAdjust="spacingAndGlyphs">-10</text>
<text x="528.82" y="129.1" font-size="13.46" textLength="20.45" lengthAdjust="spacingAndGlyphs">-10</text>
<text x="605.08" y="182.8" font-size="12.8" textLength="8.32" lengthAdjust="spacingAndGlyphs">Δ</text>
<text x="618.56" y="182.8" font-size="12.8" textLength="17.14" lengthAdjust="spacingAndGlyphs">RA</text>
<text x="640.22" y="182.8" font-size="12.8" textLength="3.77" lengthAdjust="spacingAndGlyphs">(</text><text x="651.68" y="182.8" font-size="12.8" textLength="3.84" lengthAdjust="spacingAndGlyphs">)</text>
<path d="M645.55 175.2l1 -2.8M648.35 175.2l1 -2.8" stroke="#555" stroke-width="0.9"/>
<g transform="translate(534.4 79.4) rotate(-90)"><text x="-27.68" y="0" font-size="12.8" textLength="8.43" lengthAdjust="spacingAndGlyphs">Δ</text><text x="-14.84" y="0" font-size="12.8" textLength="23.15" lengthAdjust="spacingAndGlyphs">Dec</text><text x="14.24" y="0" font-size="12.8" textLength="3.64" lengthAdjust="spacingAndGlyphs">(</text><text x="25.09" y="0" font-size="12.8" textLength="3.71" lengthAdjust="spacingAndGlyphs">)</text><path d="M19.5 -7.6l1 -2.8M22.3 -7.6l1 -2.8" stroke="#555" stroke-width="0.9"/></g>
<rect x="714" y="0" width="11.7" height="158.3" fill="url(#cmap)" stroke="#666" stroke-width="0.8"/>
<path d="M725.7 156.58h-1.6M725.7 147.86h-1.6M725.7 139.14h-1.6M725.7 130.42h-1.6M725.7 121.7h-3M725.7 112.98h-1.6M725.7 104.26h-1.6M725.7 95.54h-1.6M725.7 86.82h-1.6M725.7 78.1h-3M725.7 69.38h-1.6M725.7 60.66h-1.6M725.7 51.94h-1.6M725.7 43.22h-1.6M725.7 34.5h-3M725.7 25.78h-1.6M725.7 17.06h-1.6M725.7 8.34h-1.6" stroke="#000" stroke-width="1"/>
<text x="727.15" y="125.3" font-size="11.24" textLength="6.27" lengthAdjust="spacingAndGlyphs">0</text>
<text x="726.71" y="81.7" font-size="11.24" textLength="19.8" lengthAdjust="spacingAndGlyphs">100</text>
<text x="727" y="38.1" font-size="11.24" textLength="19.88" lengthAdjust="spacingAndGlyphs">200</text>
<g transform="translate(758.6 80.2) rotate(-90)"><text x="-45.65" y="0" font-size="11.34" textLength="91.33" lengthAdjust="spacingAndGlyphs">[mJy km/s/beam]</text></g>
<rect x="553" y="147.8" width="8" height="8.8" fill="#fff" stroke="#555" stroke-width="0.8"/>
<ellipse cx="557" cy="152.2" rx="2.9" ry="3.7" fill="#aaa" stroke="#444" stroke-width="0.8"/>
</g>
<g>
<clipPath id="cp3"><rect x="30.3" y="200.6" width="158.3" height="158.3"/></clipPath>
<g clip-path="url(#cp3)"><rect x="-10.7" y="159.75" width="240" height="240" transform="rotate(-25 109.3 279.75)" filter="url(#nz3)" fill="#9cc"/></g>
<path d="M30.3 200.6L34.3 200.6L30.3 204.6Z" fill="#fff"/>
<path d="M188.6 200.6L184.6 200.6L188.6 204.6Z" fill="#fff"/>
<ellipse cx="72.7" cy="278" rx="1.2" ry="1" fill="#fdf3c4" stroke="#d0442c" stroke-width="0.9"/>
<ellipse cx="108" cy="309" rx="1" ry="1" fill="#fdf3c4" stroke="#d0442c" stroke-width="0.9"/>
<ellipse cx="90.2" cy="345.5" rx="1.1" ry="1" fill="#fdf3c4" stroke="#d0442c" stroke-width="0.9"/>
<ellipse cx="142.6" cy="261.8" rx="0.8" ry="0.8" fill="#fdf3c4" stroke="#d0442c" stroke-width="0.9"/>
<ellipse cx="34" cy="225" rx="1.2" ry="1.2" fill="#fdf3c4" stroke="#d0442c" stroke-width="0.9"/>
<circle cx="109.3" cy="279.75" r="74.7" fill="none" stroke="#000" stroke-width="1.6" stroke-dasharray="4.2 2.6"/>
<circle cx="109.3" cy="279.75" r="40.7" fill="none" stroke="#000" stroke-width="1.25"/>
<path d="M104.5 279.75h9M108.9 275.25v9" stroke="#c41818" stroke-width="1.4"/>
<line x1="109.2" y1="279.75" x2="150" y2="279.75" stroke="#000" stroke-width="1.6" stroke-dasharray="4.4 2.3"/>
<text x="115.42" y="276" font-size="9.06" textLength="28.17" lengthAdjust="spacingAndGlyphs">50 kpc</text>
<rect x="96.3" y="256" width="25.6" height="11.9" fill="#fff" stroke="#999" stroke-width="0.9"/>
<text x="97.42" y="265.4" font-size="11.34" textLength="23.39" lengthAdjust="spacingAndGlyphs">QSO</text>
<rect x="49.48" y="209.6" width="119.64" height="23.9" fill="#fff" fill-opacity="0.85" stroke="#999" stroke-width="0.9"/>
<text x="50.35" y="218.4" font-size="11.34" textLength="118.12" lengthAdjust="spacingAndGlyphs">QSO J0100+2802 (F2)</text>
<text x="68.15" y="230.4" font-size="11.3" textLength="39.25" lengthAdjust="spacingAndGlyphs">[C II] at</text>
<text x="112" y="230.4" font-size="11.5" textLength="3.84" lengthAdjust="spacingAndGlyphs" class="si">z</text>
<path d="M117.5 225.6h6.2M117.5 228h6.2" stroke="#000" stroke-width="0.8"/>
<text x="125.7" y="230.7" font-size="11.6" textLength="24.48" lengthAdjust="spacingAndGlyphs" class="sr">6.112</text>
<rect x="30.3" y="200.6" width="158.3" height="158.3" fill="none" stroke="#888" stroke-width="1"/>
<path d="M182.5 358.9v-2.8M182.5 200.6v2.8M30.3 354.1h2.8M188.6 354.1h-2.8M173.3 358.9v-2.8M173.3 200.6v2.8M30.3 344.9h2.8M188.6 344.9h-2.8M164.1 358.9v-2.8M164.1 200.6v2.8M30.3 335.7h2.8M188.6 335.7h-2.8M154.9 358.9v-5.5M154.9 200.6v5.5M30.3 326.5h5.5M188.6 326.5h-5.5M145.7 358.9v-2.8M145.7 200.6v2.8M30.3 317.3h2.8M188.6 317.3h-2.8M136.5 358.9v-2.8M136.5 200.6v2.8M30.3 308.1h2.8M188.6 308.1h-2.8M127.3 358.9v-2.8M127.3 200.6v2.8M30.3 298.9h2.8M188.6 298.9h-2.8M118.1 358.9v-2.8M118.1 200.6v2.8M30.3 289.7h2.8M188.6 289.7h-2.8M108.9 358.9v-5.5M108.9 200.6v5.5M30.3 280.5h5.5M188.6 280.5h-5.5M99.7 358.9v-2.8M99.7 200.6v2.8M30.3 271.3h2.8M188.6 271.3h-2.8M90.5 358.9v-2.8M90.5 200.6v2.8M30.3 262.1h2.8M188.6 262.1h-2.8M81.3 358.9v-2.8M81.3 200.6v2.8M30.3 252.9h2.8M188.6 252.9h-2.8M72.1 358.9v-2.8M72.1 200.6v2.8M30.3 243.7h2.8M188.6 243.7h-2.8M62.9 358.9v-5.5M62.9 200.6v5.5M30.3 234.5h5.5M188.6 234.5h-5.5M53.7 358.9v-2.8M53.7 200.6v2.8M30.3 225.3h2.8M188.6 225.3h-2.8M44.5 358.9v-2.8M44.5 200.6v2.8M30.3 216.1h2.8M188.6 216.1h-2.8M35.3 358.9v-2.8M35.3 200.6v2.8M30.3 206.9h2.8M188.6 206.9h-2.8" stroke="#000" stroke-width="1.2"/>
<text x="54.9" y="370.7" font-size="13.46" textLength="15.55" lengthAdjust="spacingAndGlyphs">10</text>
<text x="12.75" y="237.9" font-size="13.46" textLength="15.55" lengthAdjust="spacingAndGlyphs">10</text>
<text x="105.15" y="370.7" font-size="13.46" textLength="7.51" lengthAdjust="spacingAndGlyphs">0</text>
<text x="20.75" y="283.9" font-size="13.46" textLength="7.51" lengthAdjust="spacingAndGlyphs">0</text>
<text x="144.44" y="370.7" font-size="13.46" textLength="20.45" lengthAdjust="spacingAndGlyphs">-10</text>
<text x="7.82" y="329.9" font-size="13.46" textLength="20.45" lengthAdjust="spacingAndGlyphs">-10</text>
<text x="84.08" y="383.4" font-size="12.8" textLength="8.32" lengthAdjust="spacingAndGlyphs">Δ</text>
<text x="97.56" y="383.4" font-size="12.8" textLength="17.14" lengthAdjust="spacingAndGlyphs">RA</text>
<text x="119.22" y="383.4" font-size="12.8" textLength="3.77" lengthAdjust="spacingAndGlyphs">(</text><text x="130.68" y="383.4" font-size="12.8" textLength="3.84" lengthAdjust="spacingAndGlyphs">)</text>
<path d="M124.55 375.8l1 -2.8M127.35 375.8l1 -2.8" stroke="#555" stroke-width="0.9"/>
<g transform="translate(13.4 280) rotate(-90)"><text x="-27.68" y="0" font-size="12.8" textLength="8.43" lengthAdjust="spacingAndGlyphs">Δ</text><text x="-14.84" y="0" font-size="12.8" textLength="23.15" lengthAdjust="spacingAndGlyphs">Dec</text><text x="14.24" y="0" font-size="12.8" textLength="3.64" lengthAdjust="spacingAndGlyphs">(</text><text x="25.09" y="0" font-size="12.8" textLength="3.71" lengthAdjust="spacingAndGlyphs">)</text><path d="M19.5 -7.6l1 -2.8M22.3 -7.6l1 -2.8" stroke="#555" stroke-width="0.9"/></g>
<rect x="193.2" y="200.6" width="10.8" height="158.3" fill="url(#cmap)" stroke="#666" stroke-width="0.8"/>
<path d="M204 353.62h-1.6M204 345.84h-1.6M204 338.06h-1.6M204 330.28h-1.6M204 322.5h-3M204 314.72h-1.6M204 306.94h-1.6M204 299.16h-1.6M204 291.38h-1.6M204 283.6h-3M204 275.82h-1.6M204 268.04h-1.6M204 260.26h-1.6M204 252.48h-1.6M204 244.7h-3M204 236.92h-1.6M204 229.14h-1.6M204 221.36h-1.6M204 213.58h-1.6M204 205.8h-3" stroke="#000" stroke-width="1"/>
<text x="205.45" y="326.1" font-size="11.24" textLength="6.27" lengthAdjust="spacingAndGlyphs">0</text>
<text x="205.01" y="287.2" font-size="11.24" textLength="19.8" lengthAdjust="spacingAndGlyphs">100</text>
<text x="205.3" y="248.3" font-size="11.24" textLength="19.88" lengthAdjust="spacingAndGlyphs">200</text>
<text x="205.43" y="209.4" font-size="11.24" textLength="19.75" lengthAdjust="spacingAndGlyphs">300</text>
<g transform="translate(236.9 280.8) rotate(-90)"><text x="-45.65" y="0" font-size="11.34" textLength="91.33" lengthAdjust="spacingAndGlyphs">[mJy km/s/beam]</text></g>
<rect x="32" y="348.4" width="8" height="8.8" fill="#fff" stroke="#555" stroke-width="0.8"/>
<ellipse cx="36" cy="352.8" rx="3.1" ry="3.7" fill="#aaa" stroke="#444" stroke-width="0.8"/>
</g>
<g>
<rect x="291.3" y="200.6" width="158.3" height="158.3" filter="url(#nz4)" fill="#9cc"/>
<ellipse cx="309.3" cy="207.3" rx="1.3" ry="1.1" fill="#fdf3c4" stroke="#d0442c" stroke-width="0.9"/>
<ellipse cx="299.1" cy="240.7" rx="1.2" ry="1" fill="#fdf3c4" stroke="#d0442c" stroke-width="0.9"/>
<ellipse cx="417" cy="237.4" rx="1.2" ry="1" fill="#fdf3c4" stroke="#d0442c" stroke-width="0.9"/>
<ellipse cx="356" cy="286.2" rx="1.6" ry="2.2" fill="#fdf3c4" stroke="#d0442c" stroke-width="0.9"/>
<ellipse cx="435.3" cy="256.1" rx="1.3" ry="1.1" fill="#fdf3c4" stroke="#d0442c" stroke-width="0.9"/>
<ellipse cx="421" cy="265" rx="1.1" ry="1" fill="#fdf3c4" stroke="#d0442c" stroke-width="0.9"/>
<ellipse cx="305.2" cy="334.3" rx="1.5" ry="1.1" fill="#fdf3c4" stroke="#d0442c" stroke-width="0.9"/>
<ellipse cx="300" cy="324" rx="1.1" ry="1" fill="#fdf3c4" stroke="#d0442c" stroke-width="0.9"/>
<ellipse cx="428.4" cy="333.4" rx="1.3" ry="1.1" fill="#fdf3c4" stroke="#d0442c" stroke-width="0.9"/>
<circle cx="369.6" cy="279.75" r="74.5" fill="none" stroke="#000" stroke-width="1.6" stroke-dasharray="4.2 2.6"/>
<circle cx="369.6" cy="279.75" r="40.7" fill="none" stroke="#000" stroke-width="1.25"/>
<path d="M364.9 279.75h9M369.3 275.25v9" stroke="#c41818" stroke-width="1.4"/>
<line x1="369.6" y1="279.75" x2="410.3" y2="279.75" stroke="#000" stroke-width="1.6" stroke-dasharray="4.4 2.3"/>
<text x="375.82" y="276" font-size="9.06" textLength="28.17" lengthAdjust="spacingAndGlyphs">50 kpc</text>
<rect x="356.6" y="256" width="25.6" height="11.9" fill="#fff" stroke="#999" stroke-width="0.9"/>
<text x="357.72" y="265.4" font-size="11.34" textLength="23.39" lengthAdjust="spacingAndGlyphs">QSO</text>
<rect x="327.85" y="209.6" width="83.5" height="23.9" fill="#fff" fill-opacity="0.85" stroke="#999" stroke-width="0.9"/>
<text x="334.08" y="218.4" font-size="11.34" textLength="70.58" lengthAdjust="spacingAndGlyphs">PSO J183+05</text>
<text x="328.45" y="230.4" font-size="11.3" textLength="39.25" lengthAdjust="spacingAndGlyphs">[C II] at</text>
<text x="372.3" y="230.4" font-size="11.5" textLength="3.84" lengthAdjust="spacingAndGlyphs" class="si">z</text>
<path d="M377.8 225.6h6.2M377.8 228h6.2" stroke="#000" stroke-width="0.8"/>
<text x="386.02" y="230.7" font-size="11.6" textLength="24.04" lengthAdjust="spacingAndGlyphs" class="sr">6.064</text>
<rect x="291.3" y="200.6" width="158.3" height="158.3" fill="none" stroke="#888" stroke-width="1"/>
<path d="M443.78 358.9v-2.8M443.78 200.6v2.8M291.3 354.58h2.8M449.6 354.58h-2.8M434.52 358.9v-2.8M434.52 200.6v2.8M291.3 345.32h2.8M449.6 345.32h-2.8M425.26 358.9v-2.8M425.26 200.6v2.8M291.3 336.06h2.8M449.6 336.06h-2.8M416 358.9v-5.5M416 200.6v5.5M291.3 326.8h5.5M449.6 326.8h-5.5M406.74 358.9v-2.8M406.74 200.6v2.8M291.3 317.54h2.8M449.6 317.54h-2.8M397.48 358.9v-2.8M397.48 200.6v2.8M291.3 308.28h2.8M449.6 308.28h-2.8M388.22 358.9v-2.8M388.22 200.6v2.8M291.3 299.02h2.8M449.6 299.02h-2.8M378.96 358.9v-2.8M378.96 200.6v2.8M291.3 289.76h2.8M449.6 289.76h-2.8M369.7 358.9v-5.5M369.7 200.6v5.5M291.3 280.5h5.5M449.6 280.5h-5.5M360.44 358.9v-2.8M360.44 200.6v2.8M291.3 271.24h2.8M449.6 271.24h-2.8M351.18 358.9v-2.8M351.18 200.6v2.8M291.3 261.98h2.8M449.6 261.98h-2.8M341.92 358.9v-2.8M341.92 200.6v2.8M291.3 252.72h2.8M449.6 252.72h-2.8M332.66 358.9v-2.8M332.66 200.6v2.8M291.3 243.46h2.8M449.6 243.46h-2.8M323.4 358.9v-5.5M323.4 200.6v5.5M291.3 234.2h5.5M449.6 234.2h-5.5M314.14 358.9v-2.8M314.14 200.6v2.8M291.3 224.94h2.8M449.6 224.94h-2.8M304.88 358.9v-2.8M304.88 200.6v2.8M291.3 215.68h2.8M449.6 215.68h-2.8M295.62 358.9v-2.8M295.62 200.6v2.8M291.3 206.42h2.8M449.6 206.42h-2.8" stroke="#000" stroke-width="1.2"/>
<text x="315.4" y="370.7" font-size="13.46" textLength="15.55" lengthAdjust="spacingAndGlyphs">10</text>
<text x="273.75" y="237.6" font-size="13.46" textLength="15.55" lengthAdjust="spacingAndGlyphs">10</text>
<text x="365.95" y="370.7" font-size="13.46" textLength="7.51" lengthAdjust="spacingAndGlyphs">0</text>
<text x="281.75" y="283.9" font-size="13.46" textLength="7.51" lengthAdjust="spacingAndGlyphs">0</text>
<text x="405.54" y="370.7" font-size="13.46" textLength="20.45" lengthAdjust="spacingAndGlyphs">-10</text>
<text x="268.82" y="330.2" font-size="13.46" textLength="20.45" lengthAdjust="spacingAndGlyphs">-10</text>
<text x="345.08" y="383.4" font-size="12.8" textLength="8.32" lengthAdjust="spacingAndGlyphs">Δ</text>
<text x="358.56" y="383.4" font-size="12.8" textLength="17.14" lengthAdjust="spacingAndGlyphs">RA</text>
<text x="380.22" y="383.4" font-size="12.8" textLength="3.77" lengthAdjust="spacingAndGlyphs">(</text><text x="391.68" y="383.4" font-size="12.8" textLength="3.84" lengthAdjust="spacingAndGlyphs">)</text>
<path d="M385.55 375.8l1 -2.8M388.35 375.8l1 -2.8" stroke="#555" stroke-width="0.9"/>
<g transform="translate(274.4 280) rotate(-90)"><text x="-27.68" y="0" font-size="12.8" textLength="8.43" lengthAdjust="spacingAndGlyphs">Δ</text><text x="-14.84" y="0" font-size="12.8" textLength="23.15" lengthAdjust="spacingAndGlyphs">Dec</text><text x="14.24" y="0" font-size="12.8" textLength="3.64" lengthAdjust="spacingAndGlyphs">(</text><text x="25.09" y="0" font-size="12.8" textLength="3.71" lengthAdjust="spacingAndGlyphs">)</text><path d="M19.5 -7.6l1 -2.8M22.3 -7.6l1 -2.8" stroke="#555" stroke-width="0.9"/></g>
<rect x="453.7" y="200.6" width="11.3" height="158.3" fill="url(#cmap)" stroke="#666" stroke-width="0.8"/>
<path d="M465 356h-1.6M465 350.1h-3M465 344.2h-1.6M465 338.3h-1.6M465 332.4h-1.6M465 326.5h-1.6M465 320.6h-3M465 314.7h-1.6M465 308.8h-1.6M465 302.9h-1.6M465 297h-1.6M465 291.1h-3M465 285.2h-1.6M465 279.3h-1.6M465 273.4h-1.6M465 267.5h-1.6M465 261.6h-3M465 255.7h-1.6M465 249.8h-1.6M465 243.9h-1.6M465 238h-1.6M465 232.1h-3M465 226.2h-1.6M465 220.3h-1.6M465 214.4h-1.6M465 208.5h-1.6M465 202.6h-3" stroke="#000" stroke-width="1"/>
<text x="466.37" y="353.7" font-size="11.24" textLength="17.07" lengthAdjust="spacingAndGlyphs">-50</text>
<text x="466.45" y="324.2" font-size="11.24" textLength="6.27" lengthAdjust="spacingAndGlyphs">0</text>
<text x="466.43" y="294.7" font-size="11.24" textLength="12.94" lengthAdjust="spacingAndGlyphs">50</text>
<text x="466.01" y="265.2" font-size="11.24" textLength="19.8" lengthAdjust="spacingAndGlyphs">100</text>
<text x="466.01" y="235.7" font-size="11.24" textLength="19.8" lengthAdjust="spacingAndGlyphs">150</text>
<text x="466.3" y="206.2" font-size="11.24" textLength="19.88" lengthAdjust="spacingAndGlyphs">200</text>
<g transform="translate(497.9 280.8) rotate(-90)"><text x="-45.65" y="0" font-size="11.34" textLength="91.33" lengthAdjust="spacingAndGlyphs">[mJy km/s/beam]</text></g>
<rect x="293" y="348.4" width="8" height="8.8" fill="#fff" stroke="#555" stroke-width="0.8"/>
<ellipse cx="297" cy="352.8" rx="3" ry="3" fill="#aaa" stroke="#444" stroke-width="0.8"/>
</g>
<g>
<rect x="551.3" y="200.6" width="158.3" height="158.3" filter="url(#nz5)" fill="#9cc"/>
<ellipse cx="555.1" cy="310.6" rx="2.4" ry="1.5" fill="#fdf3c4" stroke="#d0442c" stroke-width="0.9"/>
<ellipse cx="695.3" cy="210.2" rx="1.5" ry="1.2" fill="#fdf3c4" stroke="#d0442c" stroke-width="0.9"/>
<ellipse cx="702.2" cy="267" rx="1.5" ry="1.2" fill="#fdf3c4" stroke="#d0442c" stroke-width="0.9"/>
<ellipse cx="660" cy="327.2" rx="1.6" ry="1.3" fill="#fdf3c4" stroke="#d0442c" stroke-width="0.9"/>
<ellipse cx="610.8" cy="327.2" rx="1.6" ry="1.3" fill="#fdf3c4" stroke="#d0442c" stroke-width="0.9"/>
<ellipse cx="608.7" cy="313" rx="1" ry="1" fill="#fdf3c4" stroke="#d0442c" stroke-width="0.9"/>
<ellipse cx="589.6" cy="252" rx="1" ry="1" fill="#fdf3c4" stroke="#d0442c" stroke-width="0.9"/>
<circle cx="630.4" cy="279.75" r="74.75" fill="none" stroke="#000" stroke-width="1.6" stroke-dasharray="4.2 2.6"/>
<circle cx="630.4" cy="279.75" r="40.4" fill="none" stroke="#000" stroke-width="1.25"/>
<path d="M625.8 279.75h9M630.2 275.25v9" stroke="#c41818" stroke-width="1.4"/>
<line x1="630.5" y1="279.75" x2="670.8" y2="279.75" stroke="#000" stroke-width="1.6" stroke-dasharray="4.4 2.3"/>
<text x="636.72" y="276" font-size="9.06" textLength="28.17" lengthAdjust="spacingAndGlyphs">50 kpc</text>
<rect x="617.4" y="256" width="25.6" height="11.9" fill="#fff" stroke="#999" stroke-width="0.9"/>
<text x="618.52" y="265.4" font-size="11.34" textLength="23.39" lengthAdjust="spacingAndGlyphs">QSO</text>
<rect x="588.65" y="209.6" width="83.5" height="23.9" fill="#fff" fill-opacity="0.85" stroke="#999" stroke-width="0.9"/>
<text x="597.53" y="218.4" font-size="11.34" textLength="65.44" lengthAdjust="spacingAndGlyphs">PSO J159-02</text>
<text x="589.25" y="230.4" font-size="11.3" textLength="39.25" lengthAdjust="spacingAndGlyphs">[C II] at</text>
<text x="633.1" y="230.4" font-size="11.5" textLength="3.84" lengthAdjust="spacingAndGlyphs" class="si">z</text>
<path d="M638.6 225.6h6.2M638.6 228h6.2" stroke="#000" stroke-width="0.8"/>
<text x="646.81" y="230.7" font-size="11.6" textLength="24.32" lengthAdjust="spacingAndGlyphs" class="sr">6.238</text>
<rect x="551.3" y="200.6" width="158.3" height="158.3" fill="none" stroke="#888" stroke-width="1"/>
<path d="M703 358.9v-2.8M703 200.6v2.8M551.3 353.3h2.8M709.6 353.3h-2.8M693.9 358.9v-2.8M693.9 200.6v2.8M551.3 344.2h2.8M709.6 344.2h-2.8M684.8 358.9v-2.8M684.8 200.6v2.8M551.3 335.1h2.8M709.6 335.1h-2.8M675.7 358.9v-5.5M675.7 200.6v5.5M551.3 326h5.5M709.6 326h-5.5M666.6 358.9v-2.8M666.6 200.6v2.8M551.3 316.9h2.8M709.6 316.9h-2.8M657.5 358.9v-2.8M657.5 200.6v2.8M551.3 307.8h2.8M709.6 307.8h-2.8M648.4 358.9v-2.8M648.4 200.6v2.8M551.3 298.7h2.8M709.6 298.7h-2.8M639.3 358.9v-2.8M639.3 200.6v2.8M551.3 289.6h2.8M709.6 289.6h-2.8M630.2 358.9v-5.5M630.2 200.6v5.5M551.3 280.5h5.5M709.6 280.5h-5.5M621.1 358.9v-2.8M621.1 200.6v2.8M551.3 271.4h2.8M709.6 271.4h-2.8M612 358.9v-2.8M612 200.6v2.8M551.3 262.3h2.8M709.6 262.3h-2.8M602.9 358.9v-2.8M602.9 200.6v2.8M551.3 253.2h2.8M709.6 253.2h-2.8M593.8 358.9v-2.8M593.8 200.6v2.8M551.3 244.1h2.8M709.6 244.1h-2.8M584.7 358.9v-5.5M584.7 200.6v5.5M551.3 235h5.5M709.6 235h-5.5M575.6 358.9v-2.8M575.6 200.6v2.8M551.3 225.9h2.8M709.6 225.9h-2.8M566.5 358.9v-2.8M566.5 200.6v2.8M551.3 216.8h2.8M709.6 216.8h-2.8M557.4 358.9v-2.8M557.4 200.6v2.8M551.3 207.7h2.8M709.6 207.7h-2.8" stroke="#000" stroke-width="1.2"/>
<text x="576.7" y="370.7" font-size="13.46" textLength="15.55" lengthAdjust="spacingAndGlyphs">10</text>
<text x="533.75" y="238.4" font-size="13.46" textLength="15.55" lengthAdjust="spacingAndGlyphs">10</text>
<text x="626.45" y="370.7" font-size="13.46" textLength="7.51" lengthAdjust="spacingAndGlyphs">0</text>
<text x="541.75" y="283.9" font-size="13.46" textLength="7.51" lengthAdjust="spacingAndGlyphs">0</text>
<text x="665.24" y="370.7" font-size="13.46" textLength="20.45" lengthAdjust="spacingAndGlyphs">-10</text>
<text x="528.82" y="329.4" font-size="13.46" textLength="20.45" lengthAdjust="spacingAndGlyphs">-10</text>
<text x="605.08" y="383.4" font-size="12.8" textLength="8.32" lengthAdjust="spacingAndGlyphs">Δ</text>
<text x="618.56" y="383.4" font-size="12.8" textLength="17.14" lengthAdjust="spacingAndGlyphs">RA</text>
<text x="640.22" y="383.4" font-size="12.8" textLength="3.77" lengthAdjust="spacingAndGlyphs">(</text><text x="651.68" y="383.4" font-size="12.8" textLength="3.84" lengthAdjust="spacingAndGlyphs">)</text>
<path d="M645.55 375.8l1 -2.8M648.35 375.8l1 -2.8" stroke="#555" stroke-width="0.9"/>
<g transform="translate(534.4 280) rotate(-90)"><text x="-27.68" y="0" font-size="12.8" textLength="8.43" lengthAdjust="spacingAndGlyphs">Δ</text><text x="-14.84" y="0" font-size="12.8" textLength="23.15" lengthAdjust="spacingAndGlyphs">Dec</text><text x="14.24" y="0" font-size="12.8" textLength="3.64" lengthAdjust="spacingAndGlyphs">(</text><text x="25.09" y="0" font-size="12.8" textLength="3.71" lengthAdjust="spacingAndGlyphs">)</text><path d="M19.5 -7.6l1 -2.8M22.3 -7.6l1 -2.8" stroke="#555" stroke-width="0.9"/></g>
<rect x="714.2" y="200.6" width="11.6" height="158.3" fill="url(#cmap)" stroke="#666" stroke-width="0.8"/>
<path d="M725.8 357.7h-1.6M725.8 352.6h-1.6M725.8 347.5h-3M725.8 342.4h-1.6M725.8 337.3h-1.6M725.8 332.2h-1.6M725.8 327.1h-1.6M725.8 322h-3M725.8 316.9h-1.6M725.8 311.8h-1.6M725.8 306.7h-1.6M725.8 301.6h-1.6M725.8 296.5h-3M725.8 291.4h-1.6M725.8 286.3h-1.6M725.8 281.2h-1.6M725.8 276.1h-1.6M725.8 271h-3M725.8 265.9h-1.6M725.8 260.8h-1.6M725.8 255.7h-1.6M725.8 250.6h-1.6M725.8 245.5h-3M725.8 240.4h-1.6M725.8 235.3h-1.6M725.8 230.2h-1.6M725.8 225.1h-1.6M725.8 220h-3M725.8 214.9h-1.6M725.8 209.8h-1.6M725.8 204.7h-1.6" stroke="#000" stroke-width="1"/>
<text x="727.17" y="351.1" font-size="11.24" textLength="17.07" lengthAdjust="spacingAndGlyphs">-50</text>
<text x="727.25" y="325.6" font-size="11.24" textLength="6.27" lengthAdjust="spacingAndGlyphs">0</text>
<text x="727.23" y="300.1" font-size="11.24" textLength="12.94" lengthAdjust="spacingAndGlyphs">50</text>
<text x="726.81" y="274.6" font-size="11.24" textLength="19.8" lengthAdjust="spacingAndGlyphs">100</text>
<text x="726.81" y="249.1" font-size="11.24" textLength="19.8" lengthAdjust="spacingAndGlyphs">150</text>
<text x="727.1" y="223.6" font-size="11.24" textLength="19.88" lengthAdjust="spacingAndGlyphs">200</text>
<g transform="translate(758.7 280.8) rotate(-90)"><text x="-45.65" y="0" font-size="11.34" textLength="91.33" lengthAdjust="spacingAndGlyphs">[mJy km/s/beam]</text></g>
<rect x="553" y="348.4" width="8" height="8.8" fill="#fff" stroke="#555" stroke-width="0.8"/>
<ellipse cx="557" cy="352.8" rx="3" ry="3" fill="#aaa" stroke="#444" stroke-width="0.8"/>
</g>
</svg></body></html>
